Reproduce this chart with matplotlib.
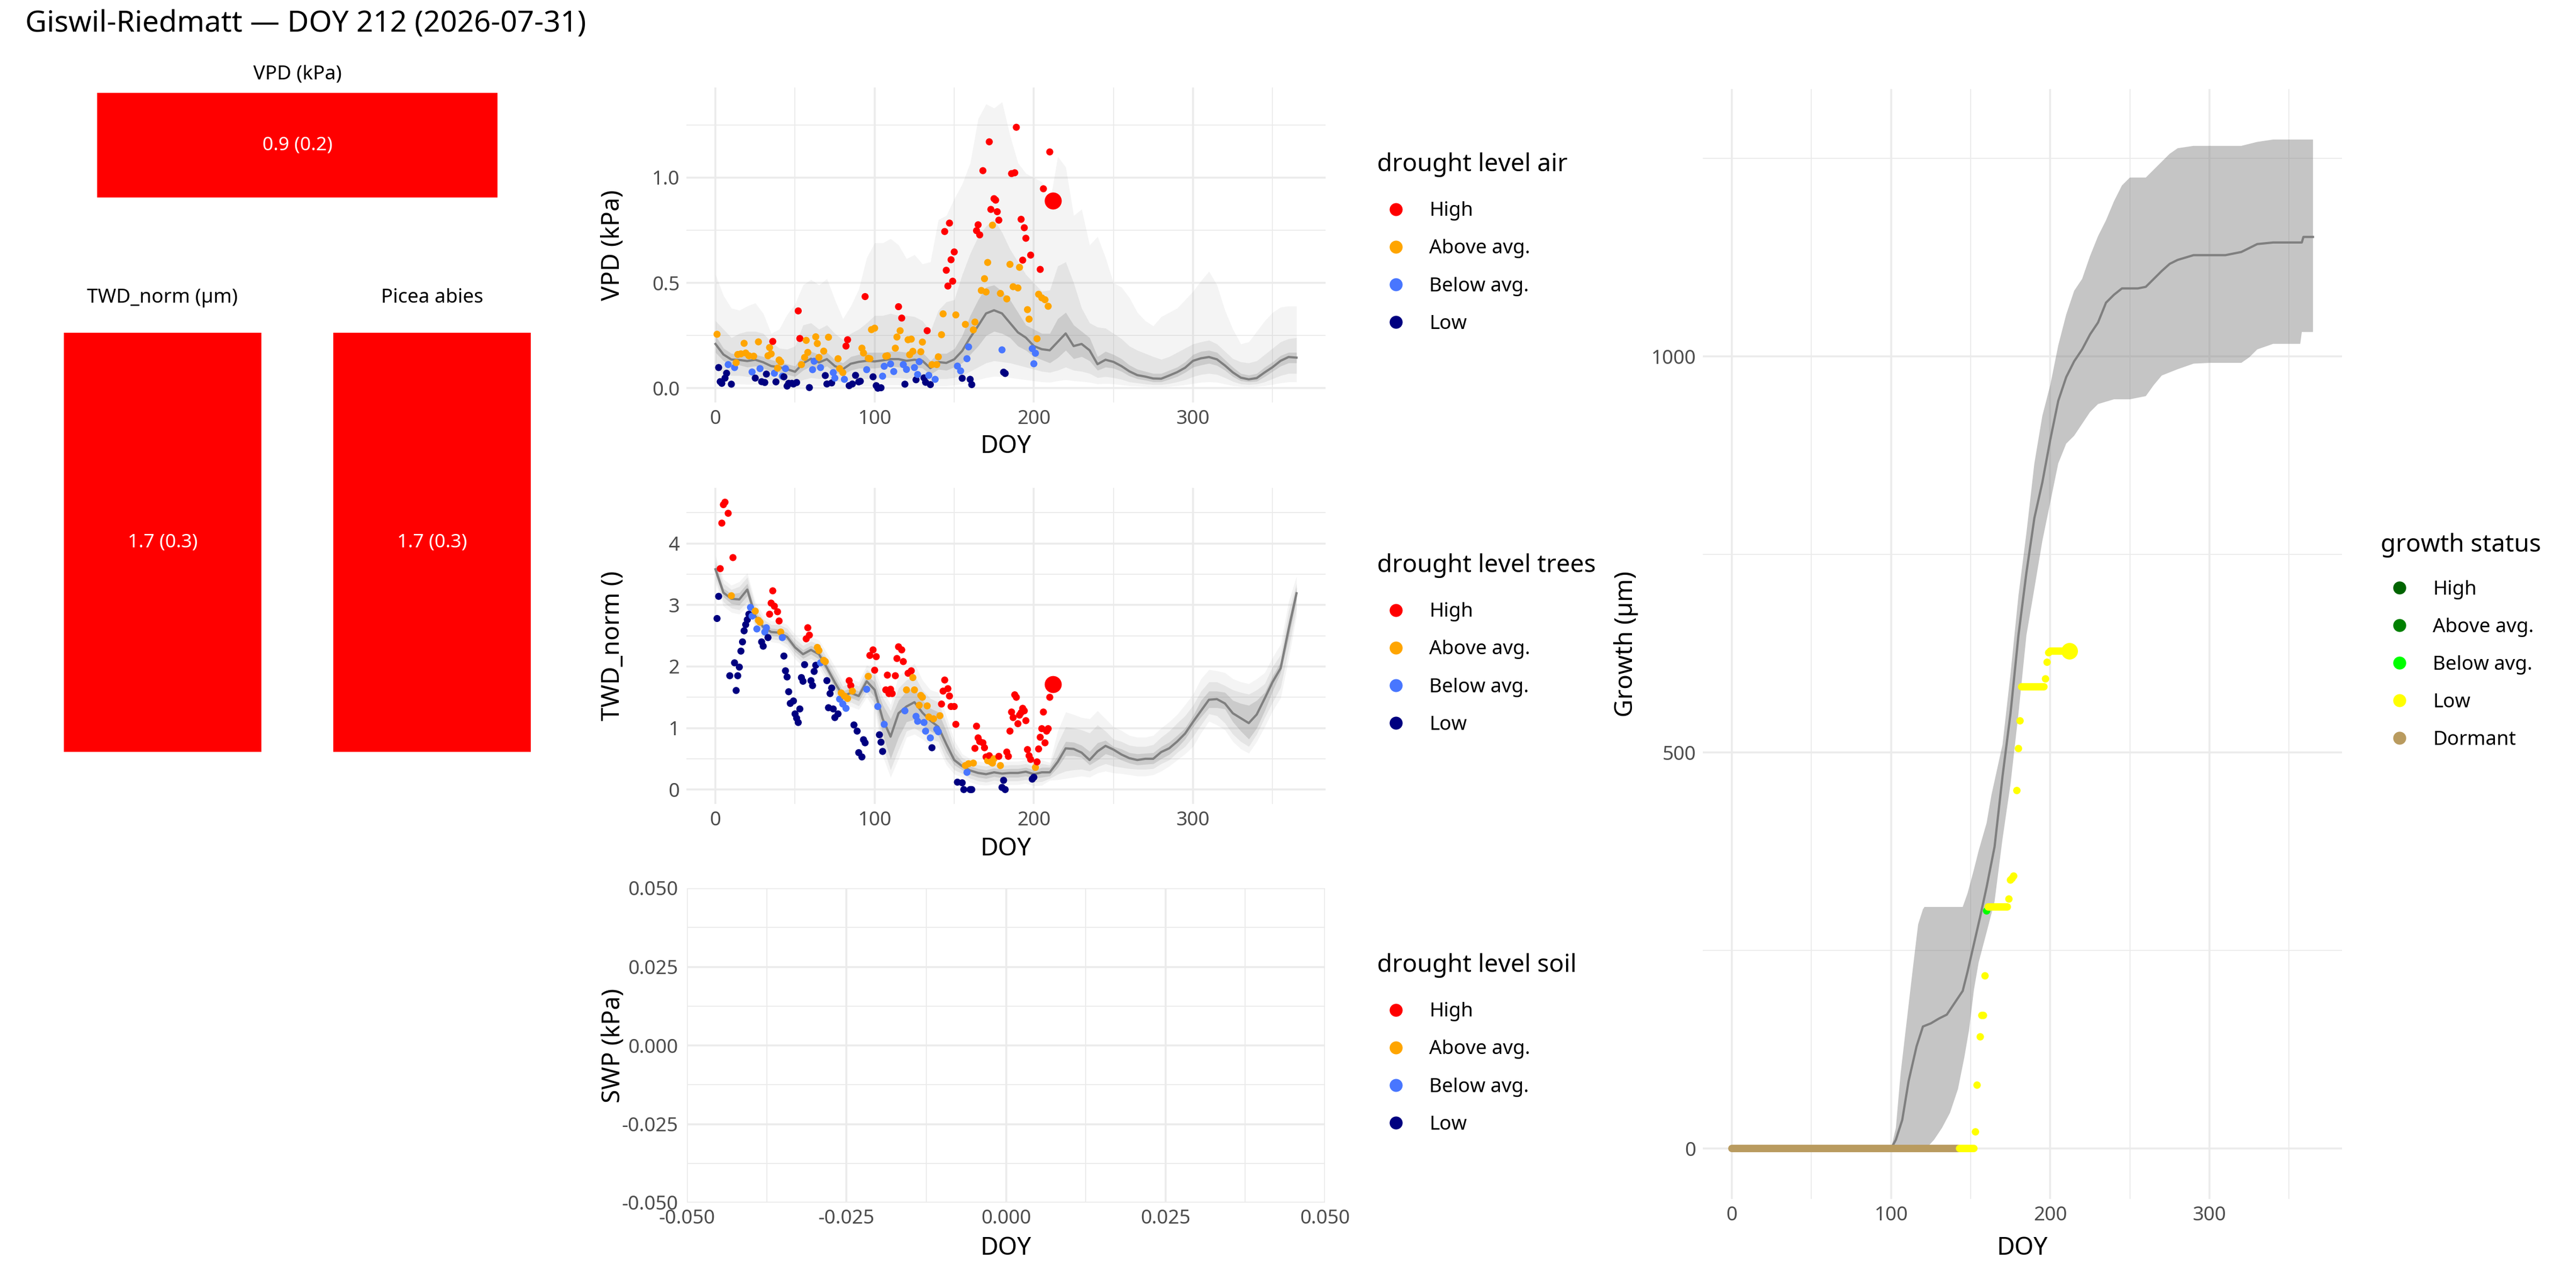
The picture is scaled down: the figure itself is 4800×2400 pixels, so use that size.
import numpy as np
import matplotlib
matplotlib.use("Agg")
import matplotlib.pyplot as plt
from matplotlib.lines import Line2D
from matplotlib.patches import Rectangle
from matplotlib.ticker import FormatStrFormatter

plt.rcParams['font.family'] = ['Noto Sans', 'DejaVu Sans']
plt.rcParams['axes.unicode_minus'] = False

TITLE = "Giswil-Riedmatt \u2014 DOY 212 (2026-07-31)"
TODAY = 212

# ---------------- summary tiles ----------------
tile_labels = ["VPD (kPa)", "TWD_norm (\u00b5m)", "Picea abies"]
tile_values = ["0.9 (0.2)", "1.7 (0.3)", "1.7 (0.3)"]
tile_colors = ["#FF0000", "#FF0000", "#FF0000"]

# ---------------- legends ----------------
level_names = ["High", "Above avg.", "Below avg.", "Low"]
level_codes = ["H", "A", "B", "L"]
level_colors = ["#FF0000", "#FFA500", "#4876FF", "#000080"]
growth_names = ["High", "Above avg.", "Below avg.", "Low", "Dormant"]
growth_codes = ["H", "A", "B", "L", "D"]
growth_colors = ["#006400", "#008000", "#00FF00", "#FFFF00", "#B99B5F"]

# ---------------- climatology ribbons (DOY 0..365 step 5) ----------------
rib_doy = list(range(0, 366, 5))

vpd_med = [0.21, 0.16, 0.136, 0.134, 0.129, 0.135, 0.123, 0.105, 0.10, 0.09,
           0.078, 0.118, 0.14, 0.122, 0.138, 0.105, 0.09, 0.116, 0.125, 0.13,
           0.127, 0.132, 0.138, 0.138, 0.13, 0.135, 0.13, 0.095, 0.124, 0.12,
           0.137, 0.177, 0.24, 0.296, 0.355, 0.37, 0.355, 0.31, 0.265, 0.24,
           0.2, 0.185, 0.18, 0.22, 0.26, 0.2, 0.21, 0.18, 0.114, 0.135,
           0.125, 0.105, 0.08, 0.062, 0.055, 0.046, 0.045, 0.06, 0.076, 0.097,
           0.13, 0.142, 0.148, 0.137, 0.108, 0.075, 0.05, 0.042, 0.048, 0.075,
           0.1, 0.13, 0.148, 0.145]
vpd_lo1 = [0.17, 0.13, 0.11, 0.11, 0.1, 0.105, 0.095, 0.08, 0.075, 0.065,
           0.055, 0.085, 0.105, 0.09, 0.105, 0.075, 0.065, 0.085, 0.095, 0.095,
           0.095, 0.1, 0.105, 0.1, 0.095, 0.1, 0.095, 0.065, 0.09, 0.085,
           0.1, 0.12, 0.16, 0.2, 0.25, 0.27, 0.26, 0.24, 0.2, 0.18,
           0.15, 0.135, 0.12, 0.145, 0.18, 0.14, 0.15, 0.13, 0.085, 0.1,
           0.095, 0.08, 0.058, 0.045, 0.038, 0.03, 0.03, 0.042, 0.055, 0.075,
           0.1, 0.11, 0.118, 0.108, 0.085, 0.055, 0.035, 0.03, 0.033, 0.055,
           0.08, 0.105, 0.12, 0.12]
vpd_hi1 = [0.25, 0.19, 0.165, 0.16, 0.16, 0.16, 0.15, 0.135, 0.125, 0.115,
           0.105, 0.16, 0.175, 0.16, 0.17, 0.135, 0.12, 0.15, 0.16, 0.17,
           0.17, 0.17, 0.175, 0.175, 0.17, 0.175, 0.17, 0.13, 0.165, 0.165,
           0.187, 0.25, 0.345, 0.42, 0.48, 0.49, 0.46, 0.42, 0.36, 0.30,
           0.28, 0.26, 0.26, 0.33, 0.36, 0.3, 0.27, 0.24, 0.15, 0.175,
           0.16, 0.14, 0.11, 0.09, 0.08, 0.07, 0.07, 0.085, 0.1, 0.125,
           0.16, 0.175, 0.18, 0.17, 0.135, 0.1, 0.07, 0.062, 0.07, 0.1,
           0.125, 0.155, 0.17, 0.17]
vpd_lo2 = [0.1, 0.07, 0.06, 0.06, 0.055, 0.055, 0.05, 0.04, 0.035, 0.03,
           0.025, 0.04, 0.05, 0.045, 0.05, 0.035, 0.03, 0.04, 0.045, 0.045,
           0.045, 0.05, 0.05, 0.05, 0.045, 0.05, 0.045, 0.03, 0.045, 0.045,
           0.05, 0.06, 0.08, 0.1, 0.12, 0.13, 0.125, 0.12, 0.11, 0.1,
           0.09, 0.08, 0.075, 0.085, 0.1, 0.085, 0.08, 0.07, 0.05, 0.055,
           0.05, 0.042, 0.03, 0.025, 0.02, 0.017, 0.017, 0.022, 0.03, 0.04,
           0.055, 0.065, 0.07, 0.065, 0.05, 0.032, 0.02, 0.017, 0.02, 0.03,
           0.045, 0.06, 0.07, 0.07]
vpd_hi2 = [0.32, 0.28, 0.24, 0.26, 0.27, 0.27, 0.26, 0.22, 0.19, 0.185,
           0.2, 0.3, 0.31, 0.28, 0.30, 0.26, 0.23, 0.26, 0.28, 0.31,
           0.345, 0.345, 0.355, 0.345, 0.345, 0.34, 0.32, 0.27, 0.37, 0.41,
           0.42, 0.54, 0.64, 0.72, 0.77, 0.80, 0.74, 0.66, 0.6, 0.54,
           0.5, 0.46, 0.466, 0.58, 0.6, 0.5, 0.38, 0.31, 0.29, 0.285,
           0.26, 0.235, 0.2, 0.18, 0.165, 0.15, 0.137, 0.15, 0.17, 0.19,
           0.21, 0.22, 0.228, 0.21, 0.175, 0.14, 0.125, 0.12, 0.13, 0.16,
           0.19, 0.22, 0.235, 0.24]
vpd_lo3 = [0.05, 0.03, 0.02, 0.02, 0.018, 0.018, 0.015, 0.01, 0.008, 0.006,
           0.005, 0.01, 0.015, 0.012, 0.015, 0.008, 0.006, 0.01, 0.012, 0.012,
           0.012, 0.015, 0.015, 0.015, 0.012, 0.015, 0.012, 0.006, 0.012, 0.012,
           0.015, 0.02, 0.03, 0.04, 0.05, 0.056, 0.055, 0.05, 0.045, 0.04,
           0.035, 0.03, 0.028, 0.035, 0.04, 0.035, 0.032, 0.028, 0.02, 0.022,
           0.02, 0.016, 0.012, 0.01, 0.008, 0.006, 0.006, 0.008, 0.012, 0.016,
           0.022, 0.028, 0.03, 0.028, 0.02, 0.012, 0.008, 0.006, 0.008, 0.012,
           0.018, 0.025, 0.03, 0.03]
vpd_hi3 = [0.54, 0.44, 0.38, 0.37, 0.39, 0.405, 0.355, 0.26, 0.28, 0.35,
           0.40, 0.49, 0.516, 0.49, 0.52, 0.42, 0.33, 0.39, 0.47, 0.62,
           0.69, 0.69, 0.71, 0.68, 0.615, 0.634, 0.59, 0.6, 0.8, 0.82,
           0.9, 0.97, 1.07, 1.28, 1.35, 1.33, 1.36, 1.2, 1.07, 1.02,
           1.0, 0.98, 0.88, 1.1, 1.05, 0.82, 0.85, 0.68, 0.72, 0.62,
           0.5, 0.48, 0.43, 0.36, 0.32, 0.296, 0.34, 0.36, 0.38, 0.42,
           0.46, 0.51, 0.555, 0.49, 0.37, 0.28, 0.21, 0.22, 0.27, 0.32,
           0.36, 0.385, 0.39, 0.39]

twd_med = [3.58, 3.2, 3.1, 3.09, 3.25, 2.82, 2.64, 2.56, 2.55, 2.48,
           2.31, 2.2, 2.27, 2.2, 1.98, 1.74, 1.52, 1.57, 1.52, 1.76,
           1.62, 1.15, 0.86, 1.24, 1.35, 1.42, 1.25, 1.12, 1.02, 0.74,
           0.48, 0.38, 0.31, 0.27, 0.25, 0.28, 0.26, 0.27, 0.27, 0.29,
           0.25, 0.28, 0.28, 0.45, 0.67, 0.66, 0.6, 0.48, 0.62, 0.71,
           0.65, 0.57, 0.51, 0.48, 0.5, 0.5, 0.61, 0.67, 0.78, 0.91,
           1.1, 1.28, 1.46, 1.47, 1.4, 1.24, 1.16, 1.08, 1.22, 1.48,
           1.75, 1.97, 2.6, 3.19]
twd_lo1 = [3.5, 3.13, 3.02, 3.0, 3.15, 2.75, 2.58, 2.5, 2.49, 2.42,
           2.24, 2.13, 2.2, 2.12, 1.9, 1.65, 1.44, 1.49, 1.44, 1.66,
           1.5, 0.9, 0.5, 0.85, 1.1, 1.14, 1.05, 0.95, 0.88, 0.6,
           0.4, 0.32, 0.24, 0.2, 0.18, 0.21, 0.19, 0.2, 0.2, 0.22,
           0.18, 0.2, 0.22, 0.36, 0.55, 0.55, 0.52, 0.4, 0.48, 0.58,
           0.54, 0.48, 0.43, 0.4, 0.41, 0.42, 0.5, 0.57, 0.68, 0.82,
           1.02, 1.18, 1.33, 1.33, 1.31, 1.1, 0.95, 0.82, 1.0, 1.28,
           1.6, 1.9, 2.45, 3.09]
twd_hi1 = [3.66, 3.27, 3.18, 3.2, 3.35, 2.9, 2.7, 2.62, 2.61, 2.55,
           2.38, 2.27, 2.34, 2.28, 2.06, 1.83, 1.6, 1.65, 1.6, 1.86,
           1.75, 1.38, 1.15, 1.45, 1.6, 1.64, 1.45, 1.32, 1.26, 0.95,
           0.6, 0.45, 0.38, 0.34, 0.32, 0.35, 0.33, 0.34, 0.34, 0.36,
           0.32, 0.36, 0.36, 0.55, 0.78, 0.77, 0.72, 0.62, 0.76, 0.8,
           0.7, 0.66, 0.6, 0.58, 0.59, 0.6, 0.7, 0.77, 0.88, 1.0,
           1.2, 1.45, 1.6, 1.6, 1.58, 1.45, 1.4, 1.37, 1.45, 1.58,
           1.85, 2.07, 2.75, 3.29]
twd_lo2 = [3.42, 3.05, 2.95, 2.92, 3.05, 2.68, 2.52, 2.45, 2.43, 2.36,
           2.18, 2.06, 2.13, 2.05, 1.82, 1.57, 1.37, 1.42, 1.36, 1.57,
           1.4, 0.72, 0.32, 0.65, 0.95, 1.0, 0.92, 0.82, 0.78, 0.48,
           0.32, 0.26, 0.18, 0.14, 0.12, 0.15, 0.13, 0.14, 0.14, 0.16,
           0.12, 0.13, 0.18, 0.25, 0.3, 0.32, 0.33, 0.3, 0.37, 0.42,
           0.38, 0.36, 0.34, 0.33, 0.33, 0.34, 0.42, 0.48, 0.6, 0.7,
           0.86, 1.05, 1.23, 1.2, 1.08, 0.9, 0.78, 0.7, 0.9, 1.17,
           1.42, 1.66, 2.28, 2.94]
twd_hi2 = [3.72, 3.35, 3.25, 3.3, 3.45, 2.98, 2.77, 2.68, 2.68, 2.62,
           2.45, 2.34, 2.41, 2.36, 2.14, 1.92, 1.68, 1.73, 1.68, 1.95,
           1.85, 1.5, 1.28, 1.65, 1.78, 1.85, 1.62, 1.48, 1.42, 1.08,
           0.7, 0.52, 0.44, 0.4, 0.38, 0.41, 0.39, 0.4, 0.4, 0.42,
           0.38, 0.42, 0.4, 0.75, 1.02, 1.0, 0.97, 0.92, 1.05, 0.95,
           0.82, 0.78, 0.72, 0.7, 0.7, 0.73, 0.85, 0.95, 1.08, 1.2,
           1.37, 1.6, 1.75, 1.75, 1.69, 1.62, 1.58, 1.55, 1.62, 1.72,
           2.0, 2.19, 2.9, 3.35]
twd_lo3 = [3.35, 2.98, 2.88, 2.85, 2.98, 2.62, 2.46, 2.4, 2.38, 2.3,
           2.12, 2.0, 2.06, 1.98, 1.75, 1.5, 1.3, 1.35, 1.3, 1.5,
           1.3, 0.55, 0.2, 0.5, 0.85, 0.9, 0.82, 0.72, 0.68, 0.4,
           0.25, 0.2, 0.12, 0.08, 0.07, 0.09, 0.07, 0.08, 0.08, 0.1,
           0.06, 0.07, 0.15, 0.16, 0.18, 0.2, 0.22, 0.2, 0.27, 0.3,
           0.27, 0.26, 0.24, 0.22, 0.22, 0.24, 0.3, 0.38, 0.48, 0.58,
           0.7, 0.92, 1.11, 1.05, 0.97, 0.78, 0.66, 0.59, 0.78, 1.02,
           1.28, 1.49, 2.12, 2.83]
twd_hi3 = [3.8, 3.42, 3.32, 3.38, 3.52, 3.05, 2.84, 2.74, 2.74, 2.68,
           2.52, 2.4, 2.48, 2.43, 2.22, 2.0, 1.76, 1.8, 1.75, 2.02,
           1.95, 1.62, 1.38, 1.85, 1.95, 2.05, 1.78, 1.62, 1.58, 1.2,
           0.8, 0.58, 0.5, 0.46, 0.44, 0.47, 0.45, 0.46, 0.46, 0.48,
           0.44, 0.48, 0.44, 0.95, 1.26, 1.22, 1.17, 1.15, 1.28, 1.15,
           1.02, 0.96, 0.88, 0.85, 0.85, 0.88, 1.0, 1.1, 1.22, 1.38,
           1.55, 1.8, 1.95, 1.93, 1.9, 1.8, 1.75, 1.72, 1.8, 1.9,
           2.15, 2.36, 3.05, 3.47]

# ---------------- daily observations (current year) ----------------
vpd_doy = [1, 2, 3, 4, 6, 7, 8, 10, 12, 13, 14, 16, 18, 19, 21, 23, 24, 25, 27, 28,
           29, 31, 32, 33, 34, 35, 36, 37, 38, 39, 40, 41, 42, 43, 44, 45, 46, 48, 49, 51,
           52, 53, 54, 56, 57, 58, 59, 61, 62, 63, 64, 65, 66, 68, 69, 70, 71, 73, 74, 75,
           77, 78, 80, 81, 82, 83, 84, 86, 88, 90, 91, 92, 93, 94, 95, 96, 97, 98, 99, 100,
           101, 102, 104, 105, 106, 107, 108, 110, 112, 113, 114, 115, 116, 117, 118, 119, 120, 121, 122, 123,
           124, 125, 126, 127, 128, 129, 130, 131, 132, 133, 134, 135, 136, 138, 139, 140, 142, 143, 144, 145,
           146, 147, 148, 149, 150, 151, 152, 154, 155, 157, 158, 159, 160, 161, 162, 163, 164, 165, 166, 167,
           168, 169, 170, 171, 172, 173, 174, 175, 176, 177, 178, 179, 180, 181, 182, 183, 185, 186, 187, 188,
           189, 190, 191, 192, 193, 194, 195, 196, 197, 198, 199, 200, 201, 202, 203, 204, 205, 206, 207, 209,
           210, 212]
vpd_val = [0.256, 0.098, 0.031, 0.023, 0.048, 0.071, 0.112, 0.019, 0.098, 0.121, 0.16, 0.163, 0.213, 0.167, 0.154, 0.077, 0.152, 0.048, 0.22, 0.093,
           0.031, 0.027, 0.067, 0.154, 0.193, 0.163, 0.222, 0.071, 0.03, 0.095, 0.134, 0.125, 0.057, 0.054, 0.093, 0.01, 0.023, 0.023, 0.02, 0.027,
           0.367, 0.236, 0.112, 0.146, 0.227, 0.17, 0.003, 0.088, 0.128, 0.244, 0.212, 0.146, 0.098, 0.176, 0.06, 0.02, 0.242, 0.025, 0.074, 0.048,
           0.14, 0.093, 0.074, 0.042, 0.2, 0.23, 0.012, 0.02, 0.061, 0.03, 0.033, 0.19, 0.167, 0.435, 0.088, 0.142, 0.14, 0.278, 0.054, 0.285,
           0.012, 0.0, 0.002, 0.057, 0.104, 0.152, 0.154, 0.115, 0.079, 0.19, 0.243, 0.387, 0.273, 0.333, 0.112, 0.019, 0.089, 0.23, 0.159, 0.233,
           0.175, 0.098, 0.04, 0.065, 0.126, 0.173, 0.219, 0.049, 0.028, 0.273, 0.061, 0.017, 0.112, 0.042, 0.112, 0.149, 0.254, 0.353, 0.744, 0.56,
           0.485, 0.784, 0.61, 0.508, 0.647, 0.348, 0.105, 0.082, 0.047, 0.303, 0.14, 0.196, 0.042, 0.017, 0.277, 0.314, 0.748, 0.776, 0.728, 0.464,
           1.033, 0.52, 0.457, 0.597, 1.17, 0.849, 0.774, 0.9, 0.893, 0.838, 0.798, 0.45, 0.182, 0.076, 0.07, 0.424, 0.588, 1.019, 0.482, 1.023,
           1.239, 0.476, 0.574, 0.802, 0.608, 0.762, 0.712, 0.373, 0.328, 0.632, 0.188, 0.116, 0.166, 0.235, 0.446, 0.564, 0.429, 0.947, 0.42, 0.389,
           1.122, 0.89]
vpd_lvl = list("ALLLLLBLBAAAAAABALAB"
               "LLLAAAHBLAAABLBLLLLL"
               "HHAAAALBBAAABALLALBB"
               "AAABHHLLLLLAAHBAAALA"
               "LLLBBAABBAAHAHBLBAAA"
               "ABLBBAALLHBLABAAAAHH"
               "HHHHHABBLABBLLAAHHHA"
               "HAAAHHAHHHHABLLAAHAH"
               "HAAHHHHAAHBBBAAHAHAA"
               "HH")

twd_doy = [1, 2, 3, 4, 5, 6, 8, 9, 10, 11, 12, 13, 14, 15, 16, 17, 18, 19, 20, 21,
           22, 23, 25, 26, 27, 28, 29, 30, 31, 32, 33, 34, 35, 36, 37, 39, 40, 41, 42, 43,
           44, 45, 46, 47, 49, 50, 51, 52, 53, 54, 55, 56, 57, 58, 59, 60, 61, 62, 63, 64,
           65, 66, 68, 69, 70, 71, 72, 73, 74, 75, 77, 78, 79, 80, 81, 82, 83, 84, 85, 86,
           87, 89, 90, 92, 93, 94, 95, 96, 97, 99, 100, 101, 102, 103, 104, 105, 106, 107, 108, 109,
           110, 111, 113, 114, 115, 117, 118, 119, 120, 121, 123, 124, 125, 126, 127, 128, 129, 130, 131, 132,
           133, 134, 135, 136, 137, 139, 140, 141, 142, 143, 144, 146, 147, 148, 150, 151, 152, 155, 156, 157,
           158, 159, 160, 161, 162, 163, 164, 165, 166, 168, 169, 170, 171, 172, 173, 174, 175, 178, 179, 180,
           181, 182, 183, 184, 185, 186, 187, 188, 189, 190, 191, 192, 193, 194, 195, 196, 197, 198, 199, 200,
           201, 202, 203, 204, 205, 206, 207, 208, 209, 210, 212]
twd_val = [2.78, 3.14, 3.59, 4.33, 4.63, 4.67, 4.49, 1.85, 3.15, 3.77, 2.06, 1.61, 1.85, 1.99, 2.25, 2.4, 2.58, 2.68, 2.76, 2.85,
           2.96, 2.82, 2.9, 2.61, 2.75, 2.72, 2.4, 2.33, 2.56, 2.63, 2.47, 2.85, 3.03, 3.23, 2.98, 2.89, 2.74, 2.56, 2.47, 2.17,
           1.93, 1.83, 1.59, 1.4, 1.44, 1.23, 1.16, 1.09, 1.31, 1.82, 1.76, 2.03, 2.45, 2.63, 2.51, 1.77, 1.69, 1.92, 2.02, 2.31,
           2.26, 2.06, 2.1, 2.08, 1.77, 1.33, 1.56, 1.65, 1.31, 1.17, 1.23, 1.47, 1.57, 1.39, 1.52, 1.32, 1.48, 1.77, 1.69, 1.6,
           1.05, 0.95, 0.6, 0.53, 0.81, 0.76, 1.63, 1.84, 2.18, 2.27, 1.94, 2.16, 1.35, 0.89, 0.77, 0.62, 1.06, 1.62, 1.86, 1.56,
           1.63, 1.56, 1.85, 2.13, 2.32, 2.27, 2.08, 1.28, 1.62, 1.89, 1.93, 1.82, 1.62, 1.19, 1.11, 1.37, 1.53, 1.5, 1.09, 0.95,
           1.36, 1.18, 0.84, 0.68, 1.15, 0.98, 0.94, 1.2, 1.39, 1.6, 1.78, 1.64, 1.52, 1.35, 1.35, 1.06, 0.12, 0.11, 0.0, 0.39,
           0.28, 0.42, 0.0, 0.0, 0.43, 0.67, 1.03, 0.84, 0.78, 0.76, 0.68, 0.53, 0.47, 0.55, 0.45, 0.43, 0.5, 0.54, 0.39, 0.035,
           0.15, 0.0, 0.61, 0.54, 0.95, 1.26, 1.17, 1.54, 1.5, 1.07, 1.21, 1.25, 1.32, 1.28, 1.12, 0.65, 0.55, 0.49, 0.17, 0.2,
           0.36, 0.45, 0.66, 0.85, 0.99, 1.26, 0.76, 0.95, 0.99, 1.5, 1.71]
twd_lvl = list("LLHHHHHLAHLLLLLLLLLL"
               "BBABAALLBBLHHHHHHABL"
               "LLLLLLLLLLLLHHHLLLLA"
               "ABAALLLLLLLBABABAHHA"
               "LLLLLLBAHHHHBLLLBHHH"
               "HHHHHHHBAHHAABBAAABB"
               "AABLABBAHHHHHHHHLLLA"
               "BALLAHHHHHHHAHAAAHAL"
               "LLHHHHHHHHHHHHHHHHLL"
               "AHHHHHHHHHH")

# ---------------- growth ----------------
g_doy_med = [0, 100, 103, 107, 111, 116, 120, 125, 130, 135, 140, 145, 148, 152, 156, 160, 165, 170,
             175, 180, 185, 190, 195, 200, 205, 210, 215, 220, 225, 230, 235, 240, 245, 255, 260, 265,
             270, 275, 280, 285, 290, 310, 320, 325, 330, 340, 358, 359, 365]
g_med = [0, 0, 11, 36, 85, 129, 154, 158, 164, 169, 184, 199, 223, 258, 293, 330, 381, 470,
         549, 648, 727, 796, 841, 895, 944, 974, 994, 1009, 1028, 1043, 1068, 1078, 1086, 1086, 1088, 1098,
         1108, 1117, 1122, 1125, 1128, 1128, 1132, 1137, 1142, 1144, 1144, 1151, 1151]
g_doy_hi = [100, 103, 106, 110, 114, 117, 120, 121, 145, 148, 152, 155, 160, 163, 170, 175, 180, 185,
            190, 195, 200, 205, 210, 215, 220, 225, 230, 235, 240, 245, 250, 260, 265, 270, 275, 280,
            290, 320, 330, 340, 365]
g_hi = [0, 26, 95, 164, 233, 283, 302, 305, 305, 322, 352, 376, 411, 446, 510, 599, 698, 777,
        865, 925, 964, 1014, 1053, 1083, 1098, 1127, 1152, 1172, 1196, 1216, 1226, 1226, 1236, 1246, 1256, 1263,
        1266, 1266, 1271, 1274, 1274]
g_doy_lo = [100, 122, 127, 132, 137, 142, 146, 149, 152, 155, 160, 165, 170, 175, 180, 185, 190, 195,
            200, 205, 210, 215, 220, 225, 230, 240, 250, 260, 265, 270, 280, 290, 300, 320, 325, 330,
            340, 357, 358, 365]
g_lo = [0, 0, 11, 26, 45, 75, 115, 150, 200, 235, 273, 312, 391, 460, 549, 648, 707, 767,
        816, 865, 890, 900, 915, 930, 940, 946, 946, 950, 964, 976, 984, 991, 992, 992, 999, 1009,
        1016, 1016, 1031, 1031]

growth_doy = (list(range(0, 143)) + list(range(143, 155)) + [156, 157, 158, 159, 160]
              + list(range(161, 174)) + [174, 175, 176, 177, 179, 180, 181]
              + list(range(182, 197)) + [197, 198, 199] + list(range(200, 213)))
growth_val = ([0] * 143 + [0] * 10 + [21, 80, 141, 168, 168, 218, 300]
              + [305] * 13 + [315, 339, 341, 344, 452, 505, 540]
              + [583] * 15 + [593, 614, 626] + [628] * 13)
growth_lvl = (["D"] * 143 + ["L"] * 10 + ["L", "L", "L", "L", "L", "L", "B"]
              + ["L"] * 13 + ["L"] * 7 + ["L"] * 15 + ["L"] * 3 + ["L"] * 13)

# ============================================================
W, H = 4800, 2400
fig = plt.figure(figsize=(16, 8), dpi=300)
fig.patch.set_facecolor("white")

def fr(x0, y0, x1, y1):
    return [x0 / W, 1 - y1 / H, (x1 - x0) / W, (y1 - y0) / H]

GRID = "#EBEBEB"
TICKC = "#4D4D4D"

def style(ax, xmaj, xmin, ymaj, ymin):
    ax.set_xticks(xmaj)
    ax.set_xticks(xmin, minor=True)
    ax.set_yticks(ymaj)
    ax.set_yticks(ymin, minor=True)
    ax.grid(which="major", color=GRID, lw=0.85)
    ax.grid(which="minor", color=GRID, lw=0.45)
    ax.tick_params(which="both", length=0, labelsize=8.8, labelcolor=TICKC, pad=3)
    for s in ax.spines.values():
        s.set_visible(False)
    ax.set_axisbelow(True)

def labels(ax, xl, yl, xy, yx):
    ax.set_xlabel(xl, fontsize=11)
    ax.set_ylabel(yl, fontsize=11)
    ax.xaxis.set_label_coords(0.5, xy)
    ax.yaxis.set_label_coords(yx, 0.5)
    ax.xaxis.label.set_va("center")
    ax.yaxis.label.set_va("center")

def ribbons(ax, x, lo3, hi3, lo2, hi2, lo1, hi1, med):
    ax.fill_between(x, lo3, hi3, color="#7F7F7F", alpha=0.08, lw=0, zorder=1)
    ax.fill_between(x, lo2, hi2, color="#7F7F7F", alpha=0.13, lw=0, zorder=1.1)
    ax.fill_between(x, lo1, hi1, color="#7F7F7F", alpha=0.24, lw=0, zorder=1.2)
    ax.plot(x, med, color="#7F7F7F", lw=1.0, zorder=2)

def points(ax, doy, val, lvl, codes, colors, s=10, s_big=58):
    cmap = dict(zip(codes, colors))
    doy = np.asarray(doy); val = np.asarray(val)
    cols = [cmap[c] for c in lvl]
    today = doy == TODAY
    ax.scatter(doy[~today], val[~today], s=s, c=[c for c, t in zip(cols, today) if not t],
               lw=0, zorder=3)
    ax.scatter(doy[today], val[today], s=s_big, c=[c for c, t in zip(cols, today) if t],
               lw=0, zorder=4)

def add_legend(title, names, colors, x, yc, sep=10.8):
    handles = [Line2D([], [], ls="", marker="o", ms=5.8, mfc=c, mec="none") for c in colors]
    leg = fig.legend(handles, names, title=title, loc="center left", bbox_to_anchor=(x, yc),
                     frameon=False, fontsize=8.8, title_fontsize=11, handlelength=1.9,
                     handletextpad=0.75, labelspacing=0.93, borderpad=0, borderaxespad=0)
    leg._legend_box.align = "left"
    leg._legend_box.sep = sep
    return leg

xr = (-18.25, 383.25)
doy_maj = [0, 100, 200, 300]
doy_min = [50, 150, 250, 350]

# ---- VPD panel ----
ax1 = fig.add_axes(fr(1279, 163, 2470, 750))
ribbons(ax1, rib_doy, vpd_lo3, vpd_hi3, vpd_lo2, vpd_hi2, vpd_lo1, vpd_hi1, vpd_med)
points(ax1, vpd_doy, vpd_val, vpd_lvl, level_codes, level_colors)
ax1.set_xlim(*xr)
ymax = max(max(vpd_hi3), max(vpd_val))
ax1.set_ylim(-0.05 * ymax, 1.05 * ymax)
style(ax1, doy_maj, doy_min, [0, 0.5, 1.0], [0.25, 0.75, 1.25])
ax1.yaxis.set_major_formatter(FormatStrFormatter("%.1f"))
labels(ax1, "DOY", "VPD (kPa)", -0.14, -0.115)

# ---- TWD panel ----
ax2 = fig.add_axes(fr(1279, 909, 2470, 1498))
ribbons(ax2, rib_doy, twd_lo3, twd_hi3, twd_lo2, twd_hi2, twd_lo1, twd_hi1, twd_med)
points(ax2, twd_doy, twd_val, twd_lvl, level_codes, level_colors)
ax2.set_xlim(*xr)
ymax = max(max(twd_hi3), max(twd_val))
ax2.set_ylim(-0.05 * ymax, 1.05 * ymax)
style(ax2, doy_maj, doy_min, [0, 1, 2, 3, 4], [0.5, 1.5, 2.5, 3.5, 4.5])
labels(ax2, "DOY", "TWD_norm ()", -0.143, -0.115)

# ---- SWP panel (no data) ----
ax3 = fig.add_axes(fr(1280, 1655, 2469, 2241))
ax3.set_xlim(-0.05, 0.05)
ax3.set_ylim(-0.05, 0.05)
sw = [-0.05, -0.025, 0.0, 0.025, 0.05]
swm = [-0.0375, -0.0125, 0.0125, 0.0375]
style(ax3, sw, swm, sw, swm)
ax3.tick_params(axis="y", pad=4)
ax3.xaxis.set_major_formatter(FormatStrFormatter("%.3f"))
ax3.yaxis.set_major_formatter(FormatStrFormatter("%.3f"))
labels(ax3, "DOY", "SWP (kPa)", -0.145, -0.115)

# ---- Growth panel ----
ax4 = fig.add_axes(fr(3173, 166, 4364, 2234))
poly_x = list(g_doy_hi) + list(g_doy_lo[::-1])
poly_y = list(g_hi) + list(g_lo[::-1])
ax4.fill(poly_x, poly_y, color="#7F7F7F", alpha=0.45, lw=0, zorder=1)
ax4.plot(g_doy_med, g_med, color="#7F7F7F", lw=1.0, zorder=2)
points(ax4, growth_doy, growth_val, growth_lvl, growth_codes, growth_colors, s=11, s_big=55)
ax4.set_xlim(*xr)
ymax = max(max(g_hi), max(growth_val))
ax4.set_ylim(-0.05 * ymax, 1.05 * ymax)
style(ax4, doy_maj, doy_min, [0, 500, 1000], [250, 750, 1250])
labels(ax4, "DOY", "Growth (\u00b5m)", -0.0445, -0.12)

# ---- legends ----
add_legend("drought level air", level_names, level_colors, 2566 / W, 1 - 453 / H)
add_legend("drought level trees", level_names, level_colors, 2566 / W, 1 - 1200 / H)
add_legend("drought level soil", level_names, level_colors, 2566 / W, 1 - 1945 / H)
add_legend("growth status", growth_names, growth_colors, 4436 / W, 1 - 1195 / H, sep=10.0)

# ---- tiles ----
tile_boxes = [(181, 173, 927, 368), (119, 620, 487, 1401), (621, 620, 989, 1401)]
tile_title_y = [139, 555, 555]
for lab, val, col, box, ty in zip(tile_labels, tile_values, tile_colors, tile_boxes, tile_title_y):
    tax = fig.add_axes(fr(*box))
    tax.set_axis_off()
    tax.add_patch(Rectangle((0, 0), 1, 1, transform=tax.transAxes, color=col, lw=0))
    tax.text(0.5, 0.5, val, ha="center", va="center", color="white", fontsize=8.5,
             transform=tax.transAxes)
    cx = (box[0] + box[2]) / 2 / W
    fig.text(cx, 1 - ty / H, lab, ha="center", va="center", fontsize=8.8, color="black")

fig.text(47 / W, 1 - 44 / H, TITLE, ha="left", va="center", fontsize=13.2)

fig.savefig("out.png", dpi=300, facecolor="white")
